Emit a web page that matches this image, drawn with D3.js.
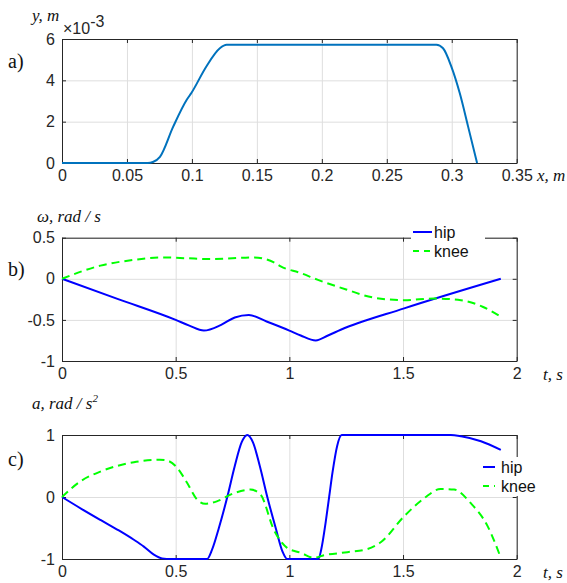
<!DOCTYPE html>
<html>
<head>
<meta charset="utf-8">
<script src="https://cdn.jsdelivr.net/npm/d3@7"></script>
<style>
  body { margin: 0; background: #fff; }
  svg { display: block; }
  .tick text { font-family: "Liberation Sans", Arial, sans-serif; font-size: 16px; fill: #262626; }
  .lbl { font-family: "Liberation Serif", "Times New Roman", serif; font-style: italic; font-size: 17px; fill: #111; }
  .tag { font-family: "Liberation Serif", "Times New Roman", serif; font-size: 20px; fill: #111; }
  .leg { font-family: "Liberation Sans", Arial, sans-serif; font-size: 16px; fill: #111; }
</style>
</head>
<body>
<div id="chart"></div>
<script>
// panel a: displacement y (x10^-3 m) vs x (m)
var aX = [0, 0.066, 0.070, 0.0754, 0.0856, 0.0959, 0.0997, 0.111, 0.1215, 0.1267, 0.2882, 0.2933, 0.2997, 0.3062, 0.3126, 0.3195];
var aY = [0, 0, 0.05, 0.3, 1.76, 3.05, 3.4, 4.66, 5.55, 5.72, 5.72, 5.55, 4.66, 3.37, 1.76, 0];
var aXTicks = [0, 0.05, 0.1, 0.15, 0.2, 0.25, 0.3, 0.35];
var aYTicks = [0, 2, 4, 6];

// panel b: angular velocity
var bHipT = [0, 0.25, 0.5, 0.56, 0.624, 0.7, 0.76, 0.822, 0.9, 1.0, 1.05, 1.116, 1.17, 1.226, 1.505, 1.93];
var bHip  = [0, -0.25, -0.5, -0.57, -0.63, -0.56, -0.47, -0.44, -0.52, -0.63, -0.69, -0.75, -0.69, -0.62, -0.36, 0];
var bKneeT = [0, 0.169, 0.316, 0.448, 0.55, 0.639, 0.75, 0.844, 0.932, 0.962, 1.05, 1.123, 1.25, 1.373, 1.505, 1.637, 1.755, 1.85, 1.93];
var bKnee  = [0, 0.16, 0.23, 0.26, 0.25, 0.24, 0.25, 0.26, 0.2, 0.15, 0.07, -0.01, -0.13, -0.23, -0.26, -0.24, -0.26, -0.34, -0.46];
var bYTicks = [-1, -0.5, 0, 0.5];

// panel c: angular acceleration
var cHipT = [0, 0.085, 0.169, 0.25, 0.316, 0.36, 0.404, 0.44, 0.48, 0.638, 0.66, 0.69, 0.727, 0.76, 0.79, 0.815, 0.84, 0.87, 0.903, 0.94, 0.97, 0.991, 1.128, 1.14, 1.16, 1.175, 1.19, 1.21, 1.23, 1.71, 1.755, 1.843, 1.93];
var cHip  = [0, -0.19, -0.37, -0.54, -0.69, -0.8, -0.93, -0.99, -1, -1, -0.85, -0.5, 0, 0.5, 0.88, 1, 0.88, 0.5, 0, -0.5, -0.88, -1, -1, -0.85, -0.4, 0, 0.4, 0.82, 1, 1, 0.98, 0.9, 0.76];
var cKneeT = [0, 0.08, 0.169, 0.316, 0.43, 0.46, 0.507, 0.55, 0.594, 0.63, 0.681, 0.755, 0.829, 0.873, 0.932, 0.99, 1.05, 1.108, 1.152, 1.255, 1.343, 1.402, 1.505, 1.593, 1.665, 1.725, 1.798, 1.872, 1.93];
var cKnee  = [0, 0.25, 0.41, 0.56, 0.6, 0.59, 0.47, 0.23, -0.04, -0.11, -0.07, 0.06, 0.12, 0.04, -0.53, -0.82, -0.9, -0.98, -0.94, -0.89, -0.84, -0.73, -0.31, -0.02, 0.13, 0.12, -0.1, -0.47, -0.98];
var cYTicks = [-1, 0, 1];

var tTicks = [0, 0.5, 1, 1.5, 2];
var legendNames = ["hip", "knee"];

var W = 567, H = 583;
var left = 62, right = 516.7;

var svg = d3.select("#chart").append("svg")
    .attr("width", W)
    .attr("height", H);

var axisColor = "#262626", gridColor = "#dedede";

/*
 * Draws one boxed MATLAB-style axes, returns scales
 */
function panel(top, bottom, xDomain, yDomain, xTicks, yTicks){
    var x = d3.scaleLinear().domain(xDomain).range([left, right]);
    var y = d3.scaleLinear().domain(yDomain).range([bottom, top]);
    var g = svg.append("g");

    // grid
    g.append("g")
        .attr("transform", "translate(0," + bottom + ")")
        .call(d3.axisBottom(x).tickValues(xTicks).tickSize(-(bottom - top)).tickFormat(""))
        .call(function(s){ s.select(".domain").remove(); s.selectAll("line").attr("stroke", gridColor); });
    g.append("g")
        .attr("transform", "translate(" + left + ",0)")
        .call(d3.axisLeft(y).tickValues(yTicks).tickSize(-(right - left)).tickFormat(""))
        .call(function(s){ s.select(".domain").remove(); s.selectAll("line").attr("stroke", gridColor); });

    // axes with inward ticks
    var ax = [
        {a: d3.axisBottom(x).tickValues(xTicks).tickFormat(function(d){ return String(d); }), t: "translate(0," + bottom + ")"},
        {a: d3.axisTop(x).tickValues(xTicks).tickFormat(""), t: "translate(0," + top + ")"},
        {a: d3.axisLeft(y).tickValues(yTicks).tickFormat(function(d){ return String(d); }), t: "translate(" + left + ",0)"},
        {a: d3.axisRight(y).tickValues(yTicks).tickFormat(""), t: "translate(" + right + ",0)"}
    ];
    ax.forEach(function(o){
        g.append("g")
            .attr("class", "axis")
            .attr("transform", o.t)
            .call(o.a.tickSizeInner(-4).tickSizeOuter(0).tickPadding(7))
            .call(function(s){
                s.select(".domain").attr("stroke", axisColor);
                s.selectAll("line").attr("stroke", axisColor);
            });
    });
    g.selectAll(".axis .tick text").attr("fill", axisColor);

    return {x: x, y: y, g: g};
}

function drawLine(p, ts, vs, color, dash, w){
    var pts = ts.map(function(t, i){ return [t, vs[i]]; });
    var line = d3.line()
        .x(function(d){ return p.x(d[0]); })
        .y(function(d){ return p.y(d[1]); })
        .curve(d3.curveMonotoneX);
    p.g.append("path")
        .datum(pts)
        .attr("fill", "none")
        .attr("stroke", color)
        .attr("stroke-width", w)
        .attr("stroke-dasharray", dash)
        .attr("d", line);
}

function legend(x0, y0, w, h, lineLen, tx){
    var g = svg.append("g");
    g.append("rect").attr("x", x0).attr("y", y0).attr("width", w).attr("height", h).attr("fill", "#fff");
    var styles = [{c: "#0000ff", d: null}, {c: "#00ff00", d: "6,5"}];
    legendNames.forEach(function(n, i){
        var yy = y0 + 10 + i * 19;
        g.append("line")
            .attr("x1", x0 + 2).attr("x2", x0 + 2 + lineLen)
            .attr("y1", yy).attr("y2", yy)
            .attr("stroke", styles[i].c).attr("stroke-width", 2)
            .attr("stroke-dasharray", styles[i].d);
        g.append("text").attr("class", "leg")
            .attr("x", tx).attr("y", yy + 6)
            .text(n);
    });
}

// ---- panel a
var pa = panel(39, 163, [0, 0.35], [0, 6], aXTicks, aYTicks);
drawLine(pa, aX, aY, "#0072bd", null, 2);
svg.append("rect").attr("x", 534).attr("y", 166).attr("width", 33).attr("height", 20).attr("fill", "#fff");
svg.append("text").attr("class", "lbl").attr("x", 537).attr("y", 181).text("x, m");
svg.append("text").attr("class", "lbl").attr("x", 32).attr("y", 21).text("y, m");
var ex = svg.append("text").attr("x", 63).attr("y", 34)
    .style("font-family", "Liberation Sans, Arial, sans-serif").style("font-size", "16px").attr("fill", axisColor);
ex.append("tspan").text("\u00d710");
ex.append("tspan").attr("dy", -7).text("-3");
svg.append("text").attr("class", "tag").attr("x", 8).attr("y", 68).text("a)");

// ---- panel b
var pb = panel(237.7, 361, [0, 2], [-1, 0.5], tTicks, bYTicks);
drawLine(pb, bHipT, bHip, "#0000ff", null, 2);
drawLine(pb, bKneeT, bKnee, "#00ff00", "8,5", 2);
legend(411, 222, 74, 40, 19, 434);
svg.append("text").attr("class", "lbl").attr("x", 37).attr("y", 222).text("\u03c9, rad / s");
svg.append("text").attr("class", "lbl").attr("x", 543).attr("y", 380).text("t, s");
svg.append("text").attr("class", "tag").attr("x", 8).attr("y", 276).text("b)");

// ---- panel c
var pc = panel(435, 559, [0, 2], [-1, 1], tTicks, cYTicks);
drawLine(pc, cHipT, cHip, "#0000ff", null, 2);
drawLine(pc, cKneeT, cKnee, "#00ff00", "8,5", 2);
legend(481, 457, 42, 39, 12, 501);
var cl = svg.append("text").attr("class", "lbl").attr("x", 32).attr("y", 409);
cl.append("tspan").text("a, rad / s");
cl.append("tspan").attr("dy", -7).style("font-size", "11px").text("2");
svg.append("text").attr("class", "lbl").attr("x", 543).attr("y", 578).text("t, s");
svg.append("text").attr("class", "tag").attr("x", 8).attr("y", 466).text("c)");
</script>
</body>
</html>
